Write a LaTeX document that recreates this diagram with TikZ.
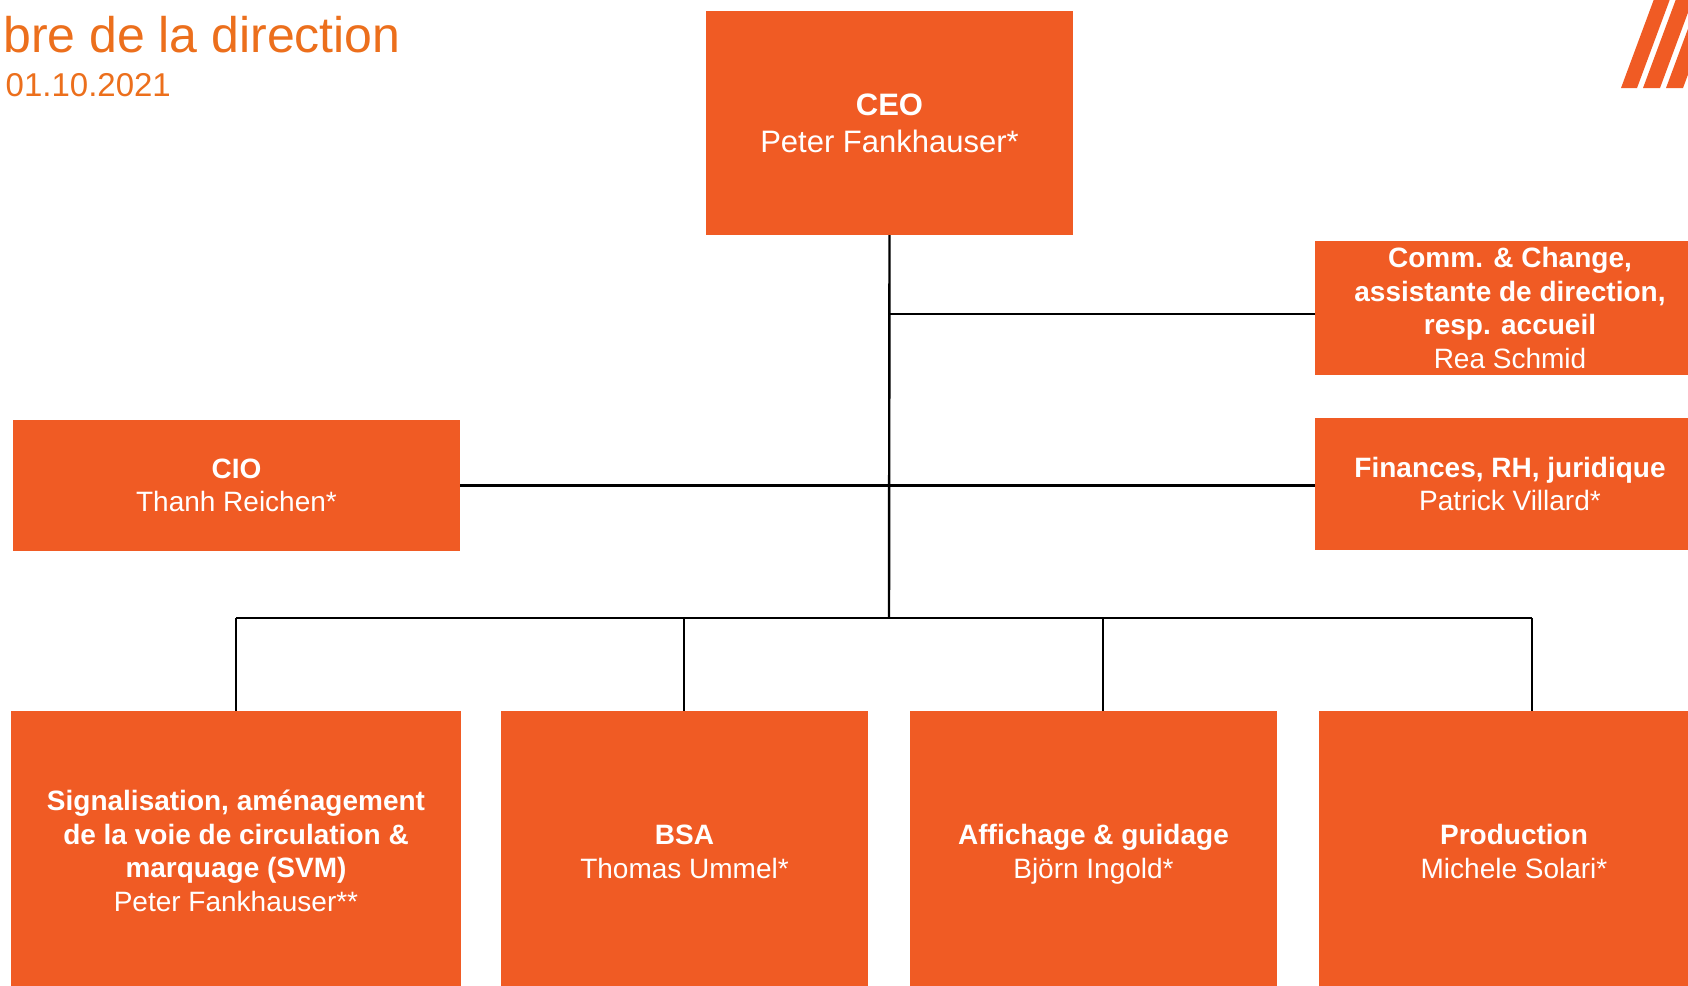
\documentclass[tikz,border=0pt]{standalone}
\usepackage{fontspec}
\setmainfont{Liberation Sans}
\definecolor{boxor}{RGB}{240,91,36}
\definecolor{titleor}{RGB}{236,111,28}
\tikzset{
  orgbox/.style={fill=boxor, draw=none, inner sep=0pt, align=center, text=white,
    font=\fontsize{28}{33.6}\selectfont},
  link/.style={draw=black, line width=2.4pt},
  title/.style={anchor=base west, inner sep=0pt, text=titleor},
}
\begin{document}
\begin{tikzpicture}[x=1pt,y=-1pt]
\useasboundingbox (0,0) rectangle (1688,985);
\clip (0,0) rectangle (1688,985);
\fill[white] (0,0) rectangle (1688,985);
% title
\node[title, font=\fontsize{50}{60}\selectfont] (ttl) at (3,52) {bre de la direction};
\node[title, font=\fontsize{33}{39}\selectfont] (date) at (5.5,96) {01.10.2021};
% logo stripes
\fill[boxor] (1621,88) -- (1637,88) -- (1671.5,-5) -- (1655.5,-5) -- cycle;
\fill[boxor] (1643,88) -- (1660,88) -- (1694.5,-5) -- (1677.5,-5) -- cycle;
\fill[boxor] (1666,88) -- (1683,88) -- (1717.5,-5) -- (1700.5,-5) -- cycle;
% boxes
\node[orgbox, minimum width=367pt, minimum height=224pt, font=\fontsize{31}{37}\selectfont] (ceo) at (889.5,123) {\textbf{CEO}\\Peter Fankhauser*};
\node[orgbox, minimum width=390pt, minimum height=134pt] (comm) at (1510,308) {\textbf{Comm. \& Change,}\\\textbf{assistante de direction,}\\\textbf{resp. accueil}\\Rea Schmid};
\node[orgbox, minimum width=390pt, minimum height=132pt] (fin) at (1510,484) {\textbf{Finances, RH, juridique}\\Patrick Villard*};
\node[orgbox, minimum width=447pt, minimum height=131pt] (cio) at (236.5,485.5) {\textbf{CIO}\\Thanh Reichen*};
\node[orgbox, minimum width=450pt, minimum height=280pt] (b1) at (236,851) {\textbf{Signalisation, aménagement}\\\textbf{de la voie de circulation \&}\\\textbf{marquage (SVM)}\\Peter Fankhauser**};
\node[orgbox, minimum width=367pt, minimum height=281pt] (b2) at (684.5,851.6) {\textbf{BSA}\\Thomas Ummel*};
\node[orgbox, minimum width=367pt, minimum height=287pt] (b3) at (1093.5,854.5) {\textbf{Affichage \& guidage}\\Björn Ingold*};
\node[orgbox, minimum width=390pt, minimum height=281pt] (b4) at (1514,851.6) {\textbf{Production}\\Michele Solari*};
% connectors
\coordinate (j1) at (889,314);
\coordinate (bus) at (889,618);
\coordinate (d1) at (236,618);
\coordinate (d2) at (684,618);
\coordinate (d3) at (1103,618);
\coordinate (d4) at (1532,618);
\draw[link] (ceo.south) -- (bus);
\draw[link] (j1) -- (j1 -| comm.west);
\draw[link] (cio.east) -- (cio.east -| fin.west);
\draw[link] (d1) -- (d4);
\draw[link] (d1) -- (d1 |- b1.north);
\draw[link] (d2) -- (d2 |- b2.north);
\draw[link] (d3) -- (d3 |- b3.north);
\draw[link] (d4) -- (d4 |- b4.north);
\end{tikzpicture}
\end{document}
